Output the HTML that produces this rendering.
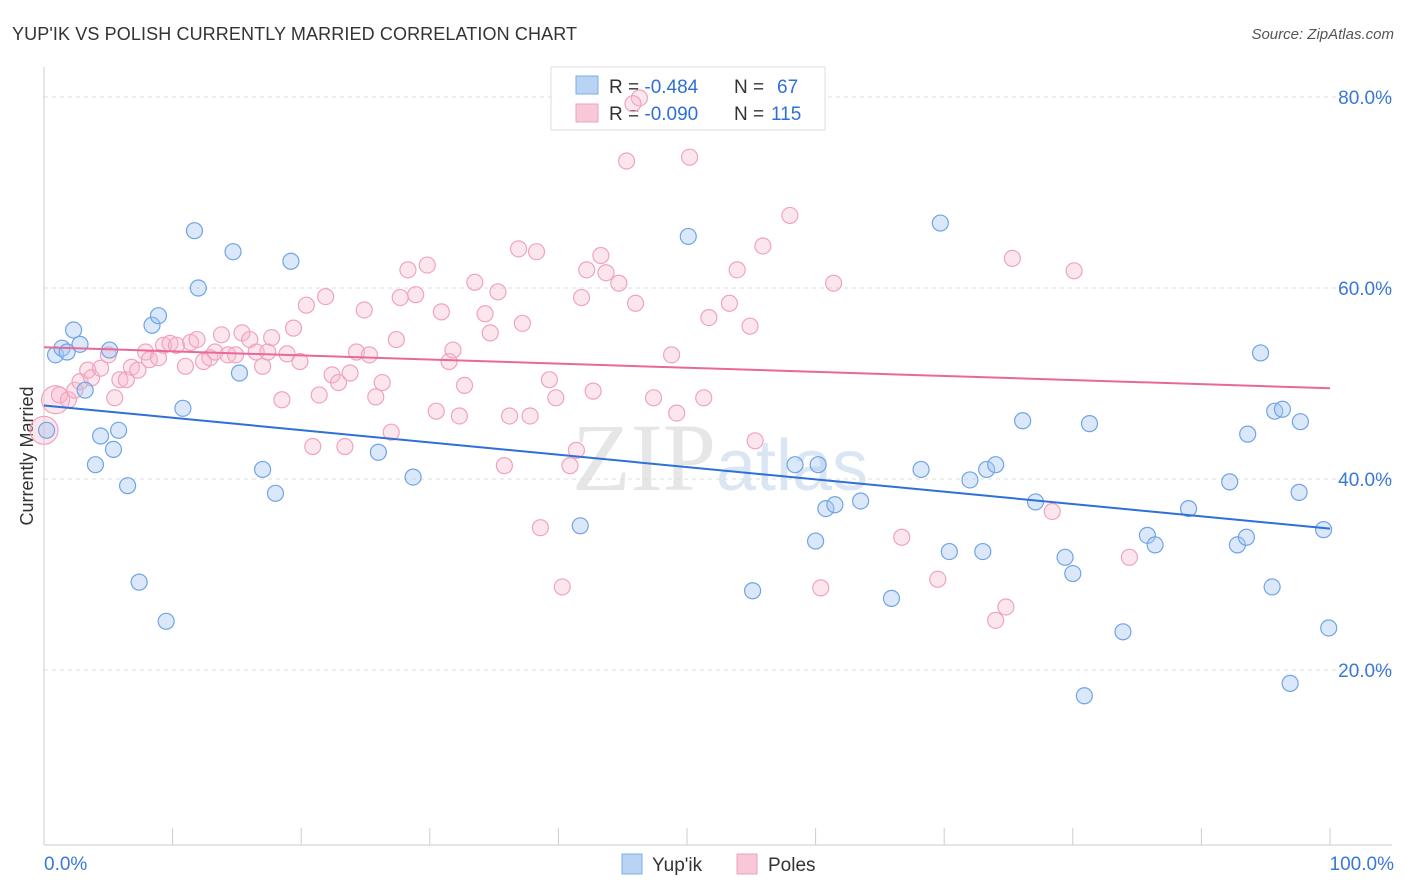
<!DOCTYPE html>
<html><head><meta charset="utf-8"><style>
body{margin:0;background:#fff;font-family:"Liberation Sans",sans-serif;}
svg{display:block}
</style></head><body>
<svg id="chart" width="1406" height="892" viewBox="0 0 1406 892">
<text x="12" y="40" font-size="18" fill="#333" textLength="565">YUP'IK VS POLISH CURRENTLY MARRIED CORRELATION CHART</text>
<text x="1394" y="39" font-size="15" fill="#555" font-style="italic" text-anchor="end">Source: ZipAtlas.com</text>
<text transform="translate(33,456) rotate(-90)" font-size="18" fill="#333" text-anchor="middle">Currently Married</text>
<text x="720" y="490" font-size="96" fill="#e6e6e6" text-anchor="middle" font-family="Liberation Serif,serif">ZIP<tspan fill="#dbe6f5" font-family="Liberation Sans,sans-serif" font-size="72">atlas</tspan></text>
<g id="grid"></g><g id="axes"></g>
<g>
<rect x="551" y="67" width="274" height="63" fill="#fff" stroke="#ddd"/>
<rect x="576" y="76" width="22" height="18" fill="#b9d3f5" stroke="#7aaee8"/>
<rect x="576" y="104" width="22" height="18" fill="#f9c8d8" stroke="#f0a0bb"/>
<text x="609" y="93" font-size="19" fill="#333">R = <tspan fill="#2e6fd8">-0.484</tspan><tspan x="734">N = </tspan><tspan fill="#2e6fd8" x="777">67</tspan></text>
<text x="609" y="120" font-size="19" fill="#333">R = <tspan fill="#2e6fd8">-0.090</tspan><tspan x="734">N = </tspan><tspan fill="#2e6fd8" x="771">115</tspan></text>
</g>
<g id="pts"></g><g id="trend"></g>
<g>
<rect x="622" y="854" width="20" height="20" fill="#b9d3f5" stroke="#7aaee8"/>
<text x="652" y="871" font-size="19" fill="#333">Yup'ik</text>
<rect x="737" y="854" width="20" height="20" fill="#f9c8d8" stroke="#f0a0bb"/>
<text x="768" y="871" font-size="19" fill="#333">Poles</text>
</g>
</svg>
<script>
const yTicks=[20,40,60,80];
const xTickCount=10;
const blueX=[0.9,1.4,1.8,2.3,2.8,3.2,4.0,4.4,5.1,5.4,5.8,6.5,7.4,8.4,8.9,9.5,10.8,11.7,12.0,14.7,15.2,17.0,18.0,19.2,26.0,28.7,41.7,50.1,55.1,58.4,60.0,60.2,60.8,61.5,63.5,65.9,68.2,69.7,70.4,72.0,73.0,73.3,74.0,76.1,77.1,79.4,80.0,80.9,81.3,83.9,85.8,86.4,89.0,92.2,92.8,93.6,93.5,94.6,95.5,95.7,96.3,96.9,97.6,97.7,99.5,99.9,0.2];
const blueY=[53.0,53.7,53.3,55.6,54.1,49.3,41.5,44.5,53.5,43.1,45.1,39.3,29.2,56.1,57.1,25.1,47.4,66.0,60.0,63.8,51.1,41.0,38.5,62.8,42.8,40.2,35.1,65.4,28.3,41.5,33.5,41.5,36.9,37.3,37.7,27.5,41.0,66.8,32.4,39.9,32.4,41.0,41.5,46.1,37.6,31.8,30.1,17.3,45.8,24.0,34.1,33.1,36.9,39.7,33.1,44.7,33.9,53.2,28.7,47.1,47.3,18.6,38.6,46.0,34.7,24.4,45.1];
const pinkX=[0,0.9,1.2,1.9,2.4,2.8,3.4,3.7,4.4,5.0,5.5,5.9,6.4,6.8,7.3,7.9,8.2,8.9,9.3,9.8,10.3,11.0,11.4,11.9,12.4,12.9,13.3,13.8,14.3,14.9,15.4,16.0,16.5,17.0,17.4,17.7,18.5,18.9,19.4,19.9,20.4,20.9,21.4,21.9,22.4,22.9,23.4,23.8,24.3,24.9,25.3,25.8,26.3,27.0,27.4,27.7,28.3,28.9,29.8,30.5,30.9,31.5,31.8,32.3,32.7,33.5,34.3,34.7,35.3,35.8,36.2,36.9,37.2,37.8,38.3,38.6,39.3,39.8,40.3,40.9,41.4,41.8,42.2,42.7,43.3,43.7,44.7,45.3,46.0,46.3,47.4,48.8,49.2,50.2,51.3,51.7,53.3,53.9,54.9,55.3,55.9,58.0,60.4,61.4,66.7,69.5,74.0,74.8,75.3,78.4,80.1,84.4,45.8];
const pinkY=[45.1,48.3,48.8,48.3,49.3,50.2,51.4,50.6,51.6,53.0,48.5,50.4,50.4,51.7,51.4,53.3,52.5,52.7,54.0,54.2,54.0,51.8,54.3,54.6,52.3,52.7,53.3,55.1,53.0,53.0,55.3,54.6,53.3,51.8,53.3,54.8,48.3,53.1,55.8,52.3,58.2,43.4,48.8,59.1,50.9,50.1,43.4,51.1,53.3,57.7,53.0,48.6,50.1,44.9,54.6,59.0,61.9,59.3,62.4,47.1,57.5,52.3,53.5,46.6,49.8,60.6,57.3,55.3,59.6,41.4,46.6,64.1,56.3,46.6,63.8,34.9,50.4,48.5,28.7,41.4,43.0,59.0,61.9,49.2,63.4,61.6,60.5,73.3,58.4,79.9,48.5,53.0,46.9,73.7,48.5,56.9,58.4,61.9,56.0,44.0,64.4,67.6,28.6,60.5,33.9,29.5,25.2,26.6,63.1,36.6,61.8,31.8,79.3];
const blueTrend=[47.7,34.8];
const pinkTrend=[53.8,49.5];
const NS="http://www.w3.org/2000/svg";
const X0=44,X1=1330,YB=861,PPU=9.55;
function xs(v){return X0+(X1-X0)*v/100;}
function ys(v){return YB-v*PPU;}
function mk(t,a,p){const e=document.createElementNS(NS,t);for(const k in a)e.setAttribute(k,a[k]);p.appendChild(e);return e;}
const grid=document.getElementById('grid'),axes=document.getElementById('axes'),pts=document.getElementById('pts'),trend=document.getElementById('trend');
yTicks.forEach(v=>{
 const l=mk('line',{x1:44,x2:1392,y1:ys(v),y2:ys(v),stroke:'#dcdcdc','stroke-dasharray':'4,4'},grid);
 
 
 const t=mk('text',{x:1392,y:ys(v)+7,'font-size':19,fill:'#3a78d8','text-anchor':'end'},grid);
 t.textContent=v.toFixed(1)+'%';
 
 
});
const ax=mk('line',{x1:44,x2:1392,y1:845,y2:845,stroke:'#ccc'},axes);


const ay=mk('line',{x1:44,x2:44,y1:67,y2:845,stroke:'#ccc'},axes);


for(let i=0;i<=xTickCount;i++){
 const tk=mk('line',{x1:xs(i*10),x2:xs(i*10),y1:828,y2:845,stroke:'#ccc'},axes);
 
 
}
const tl=mk('text',{x:44,y:870,'font-size':19,fill:'#3a78d8'},axes);tl.textContent='0.0%';


const tr=mk('text',{x:1394,y:870,'font-size':19,fill:'#3a78d8','text-anchor':'end'},axes);tr.textContent='100.0%';


function dots(X,Y,fill,stroke,name){
 X.forEach((x,i)=>{
  const r=(name==='poles-point'&&i<2)?14:8;
  const c=mk('circle',{cx:xs(x),cy:ys(Y[i]),r:r,fill:fill,stroke:stroke,'stroke-width':1.2},pts);
  
  
 });
}
dots(pinkX,pinkY,'rgba(246,182,204,0.35)','#f0a3be','poles-point');
dots(blueX,blueY,'rgba(164,198,240,0.4)','#6fa4e6','yupik-point');
const bl=mk('line',{x1:xs(0),y1:ys(blueTrend[0]),x2:xs(100),y2:ys(blueTrend[1]),stroke:'#2e6fd8','stroke-width':2},trend);


const pl=mk('line',{x1:xs(0),y1:ys(pinkTrend[0]),x2:xs(100),y2:ys(pinkTrend[1]),stroke:'#e8689a','stroke-width':2},trend);


</script>
</body></html>
